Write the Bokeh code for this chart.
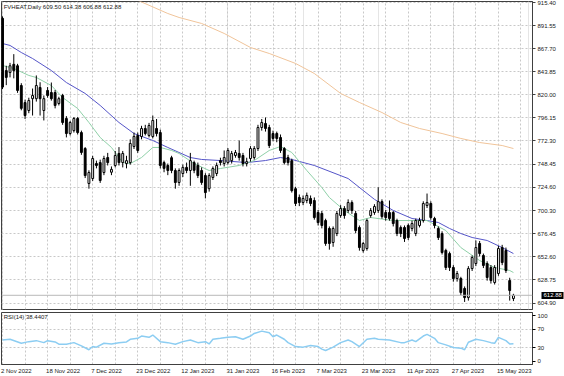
from bokeh.plotting import figure
from bokeh.layouts import column
from bokeh.models import (Range1d, FixedTicker, Grid, Span, Label, LinearAxis,
                          ColumnDataSource, PrintfTickFormatter)
from bokeh.embed import file_html
from bokeh.resources import INLINE

# ---------------- data ----------------
opens = [899, 845, 843, 851.5, 850, 829.6, 812, 803.8, 816, 816,
         827.6, 803.8, 824.5, 822.4, 822.4, 811, 819.3, 795.5, 780, 783,
         795.5, 781, 764.5, 728.4, 733.5, 749, 750, 739.7, 755.2, 740,
         747, 759.4, 750, 749, 750, 766.6, 778, 776.9, 785.2, 778,
         776.9, 785.2, 781, 750, 747, 755, 741.8, 729.4, 738.7, 745,
         741.8, 750, 747, 741.8, 736.6, 723, 734.6, 738.7, 752, 749,
         750, 752, 757.3, 759.4, 757.3, 749, 754.2, 755.2, 764.5, 786.2,
         790.4, 786.2, 780, 780, 775.9, 764.5, 755.2, 752, 723, 714,
         708.7, 710.8, 712.9, 710.8, 698.4, 697.4, 690.1, 681.9, 667.4, 676.7,
         695.3, 702.5, 700.5, 708.7, 697.4, 682.9, 659.2, 661.2, 695.3, 698.4,
         700.5, 709.7, 698.4, 698.4, 698.4, 690.1, 682.9, 682.9, 685, 681.9,
         676.7, 685, 690.1, 705.6, 707.7, 692.2, 681.9, 676.7, 659.2, 656,
         641.6, 630.2, 630.2, 619.9, 610.5, 640.5, 645.7, 666.4, 654, 645.7,
         641.6, 626.1, 635.4, 662.2, 659.2, 628.1, 609.50]
highs = [901, 850, 853, 862, 852, 832, 815, 817, 826.5, 840,
         833, 819.3, 828, 832.7, 825, 818, 821, 798, 793, 797,
         797, 783, 766, 742, 757, 752, 753, 757, 760, 746,
         762, 766, 762, 757, 774, 781, 781, 788, 789, 791,
         798.6, 795, 784, 752, 749, 757, 744, 744, 748, 750,
         760, 752, 750, 745, 739, 739, 746, 750, 755, 762.5,
         765, 762, 763, 772.8, 760, 755, 767, 767, 789, 795,
         796.6, 789, 783, 782, 779, 766, 758, 754, 725, 717,
         716, 719, 716, 714, 701, 700, 692, 684, 684, 700,
         706, 705, 712, 711, 700, 685, 668, 692, 703, 707,
         724.5, 712, 701, 710.8, 700, 692, 685, 685, 687, 690,
         692, 693, 710, 718, 710, 694, 684, 679, 661, 658,
         644, 638, 632, 622, 643, 654, 669.5, 669, 656, 648,
         644, 644, 664, 665, 662.2, 631, 614.38]
lows = [826, 830, 838, 837, 822, 804, 795, 801, 798.6, 813,
        798.6, 793.5, 817, 814, 806, 809, 789, 776, 778, 781,
        779, 758, 734, 723, 731, 744, 729, 737, 747, 737,
        745, 747, 745, 744, 748, 764, 760, 774, 778, 776,
        775, 777, 744, 740, 737, 739, 723, 726, 735, 739,
        726, 739, 734, 727, 713, 720, 732, 736, 747, 746,
        748, 749, 755, 752, 746, 746, 751, 753, 762, 783,
        782, 765, 772, 771, 760, 748, 747, 719, 705, 705,
        706, 708, 705, 691, 685, 682, 664, 660, 663, 674,
        693, 692, 698, 697, 677, 659, 657, 659, 693, 696,
        698, 692, 690, 690, 684, 674, 673, 668, 670, 679,
        674, 683, 688, 703, 691, 682, 670, 655, 639, 638,
        627, 627, 613, 606, 607.4, 638, 643, 653, 641, 628,
        625, 624, 633, 644, 636, 607.4, 606.88]
closes = [828, 838, 850, 845, 824.5, 806, 798.6, 814.1, 819.3, 829.6,
          816, 816, 819.3, 816, 809, 816, 791.4, 780, 791.4, 795.5,
          781, 760.4, 736.6, 739.7, 754.2, 747, 731.5, 754.2, 750, 743,
          757.3, 750, 759.4, 752, 769.7, 777, 762.5, 785.2, 780, 788.3,
          793.5, 780, 747, 744, 741.8, 741.8, 729.4, 741.8, 745, 741.8,
          752, 742, 736.6, 729.4, 719, 736.6, 743.9, 747, 750, 755.2,
          762.5, 759.4, 760.4, 755.2, 749, 751, 764.5, 764.5, 786.2, 791.4,
          785.2, 767.6, 774.9, 774.9, 762.5, 750, 750, 721, 707.7, 708.7,
          712.9, 716, 707.7, 693.2, 688, 685, 666.4, 666.4, 681.9, 697.4,
          702.5, 695.3, 708.7, 700.5, 679.8, 662.2, 666.4, 690.1, 700.5, 704.6,
          709.7, 694.2, 693.2, 692.2, 687, 676.7, 676.7, 671.5, 672.6, 687,
          690.1, 690.1, 707.7, 708.7, 693.2, 685, 672.6, 657.1, 641.6, 641.6,
          630.2, 635.4, 615.7, 610.5, 640.5, 651.9, 662.2, 656, 643.7, 631.3,
          628.1, 641.6, 661.2, 646.7, 638.5, 617.8, 612.88]

# moving averages (bar index, value)
ma_fast_idx = [0, 3, 7, 9, 13, 16, 20, 23, 26, 29, 32, 34, 37, 40, 42, 45, 47, 51,
               55, 58, 63, 67, 71, 74, 77, 81, 85, 87, 91, 95, 98, 104, 113, 118,
               122, 127, 131, 135, 136]
ma_fast_val = [850.3, 847.2, 840.0, 837.9, 829.6, 817.2, 805.9, 791.4, 775.9, 765.6,
               750.1, 749.0, 755.2, 765.6, 765.6, 762.5, 759.4, 749.0, 741.8, 743.9,
               747.0, 752.1, 762.5, 766.6, 760.4, 741.8, 724.2, 713.9, 700.5, 690.1,
               693.2, 690.1, 690.1, 679.8, 662.2, 648.8, 641.6, 638.5, 636.4]
ma_mid_idx = [0, 2, 5, 8, 13, 17, 22, 26, 31, 35, 40, 44, 50, 53, 58, 65, 70, 74,
              77, 83, 92, 99, 104, 109, 113, 116, 119, 122, 125, 129, 133, 136]
ma_mid_val = [873.0, 871.0, 863.7, 857.5, 845.1, 832.7, 821.4, 809.0, 791.4, 780.0,
              772.8, 765.6, 755.2, 753.2, 752.1, 750.0, 752.1, 755.2, 753.2, 747.0,
              733.5, 712.0, 700.5, 692.2, 690.1, 688.1, 681.9, 676.7, 672.6, 669.5,
              662.2, 656.0]
ma_slow_idx = [34, 44, 47, 53, 59, 66, 71, 78, 83, 90, 95, 101, 106, 111, 117, 122,
               127, 133, 136]
ma_slow_val = [921.0, 904.0, 899.9, 893.7, 883.4, 868.9, 862.7, 852.4, 842.0, 821.4,
               812.1, 801.7, 791.4, 785.2, 780.0, 774.9, 770.7, 767.6, 764.5]

rsi_idx = [0, 2, 5, 7, 9, 11, 12, 14, 15, 17, 19, 21, 23, 24, 25, 27, 29, 31, 33,
           34, 36, 37, 39, 40, 42, 44, 46, 48, 50, 52, 54, 55, 56, 58, 60, 62, 64,
           66, 67, 69, 71, 72, 73, 75, 76, 78, 80, 82, 84, 85, 86, 88, 90, 92, 93,
           95, 97, 99, 100, 103, 106, 107, 109, 110, 112, 113, 115, 116, 118, 120,
           122, 123, 124, 126, 128, 130, 131, 132, 134, 135, 136]
rsi_val = [46.9, 48.4, 39.7, 43.2, 45.4, 41.0, 45.4, 42.5, 37.6, 37.6, 41.0, 33.9,
           25.3, 32.4, 31.1, 39.7, 38.2, 41.0, 42.5, 48.4, 50.5, 55.5, 52.7, 57.7,
           43.2, 41.0, 37.6, 43.2, 46.9, 41.0, 43.2, 38.2, 48.4, 50.5, 52.7, 54.0,
           48.4, 55.5, 61.3, 66.3, 62.6, 54.0, 57.7, 48.4, 41.0, 32.4, 31.1, 34.6,
           32.4, 26.8, 23.8, 31.1, 41.0, 46.9, 43.2, 32.4, 48.4, 50.5, 48.4, 46.9,
           41.0, 41.0, 46.9, 43.2, 55.5, 59.2, 50.5, 41.0, 36.1, 30.2, 28.9, 25.3,
           41.9, 48.4, 45.4, 41.0, 39.7, 52.7, 45.4, 38.2, 38.44]

date_idx = [0, 12, 24, 36, 48, 60, 72, 84, 96, 108, 120, 132]
date_labels = ["2 Nov 2022", "18 Nov 2022", "7 Dec 2022", "23 Dec 2022",
               "12 Jan 2023", "31 Jan 2023", "16 Feb 2023", "7 Mar 2023",
               "23 Mar 2023", "11 Apr 2023", "27 Apr 2023", "15 May 2023"]
price_ticks = [604.90, 628.75, 652.60, 676.45, 700.30, 724.60, 748.45,
               772.30, 796.15, 820.00, 843.85, 867.70, 891.55, 915.40]
rsi_ticks = [0, 30, 70, 100]
rsi_levels = [30, 70]
last_price = 612.88
header = "FVHEAT,Daily  609.50 614.38 606.88 612.88"
rsi_header = "RSI(14) 38.4407"

# ---------------- build ----------------
idx = list(range(len(closes)))
tops = [max(o, c) for o, c in zip(opens, closes)]
bots = [min(o, c) for o, c in zip(opens, closes)]
fills = ["white" if c >= o else "black" for o, c in zip(opens, closes)]
src = ColumnDataSource(dict(x=idx, h=highs, l=lows, t=tops, b=bots, f=fills))

FONT = "Liberation Sans"
FS_PX = 6
FS = f"{FS_PX}px"
GRID = "#c8c8c8"
X0, X1 = -0.27, 141.07
XR = Range1d(X0, X1)
FRAME_W = 532
PX_PER_BAR = FRAME_W / (X1 - X0)

# approximate advance widths (Liberation Sans, per 1000 em) to left-align labels
ADV = {" ": 278, "N": 722, "o": 556, "v": 500, "D": 722, "e": 556, "c": 500,
       "J": 500, "a": 556, "n": 556, "F": 611, "b": 556, "M": 833, "r": 333,
       "A": 667, "p": 556, "y": 500}


def text_w(s):
    return sum(ADV.get(ch, 556) for ch in s) / 1000.0 * FS_PX


label_pos = [round(i + (text_w(s) / 2 - 1.5) / PX_PER_BAR, 4)
             for i, s in zip(date_idx, date_labels)]

p1 = figure(width=564, height=311, x_range=XR, y_range=Range1d(598.2, 916.4),
            x_axis_location=None, y_axis_location="right",
            toolbar_location=None, output_backend="svg",
            min_border_left=1, min_border_right=31, min_border_top=1,
            min_border_bottom=2)
p1.outline_line_color = "#404040"
yt = FixedTicker(ticks=price_ticks)
p1.yaxis.ticker = yt
p1.yaxis.formatter = PrintfTickFormatter(format="%.2f")
p1.yaxis.major_label_text_font = FONT
p1.yaxis.major_label_text_font_size = FS
p1.yaxis.major_label_text_color = "#202020"
p1.yaxis.major_tick_out = 3
p1.yaxis.major_tick_in = 0
p1.yaxis.minor_tick_line_color = None
p1.yaxis.major_label_standoff = 2
p1.yaxis.axis_line_color = "#404040"
p1.yaxis.major_tick_line_color = "#404040"
p1.ygrid.ticker = yt
p1.ygrid.grid_line_color = GRID
p1.ygrid.grid_line_dash = "2 2"
vgrid_ticks = list(range(0, 141, 6))
p1.add_layout(Grid(dimension=0, ticker=FixedTicker(ticks=vgrid_ticks),
                   grid_line_color=GRID, grid_line_dash="2 2"))

# current-price box on the price scale: a thick tick behind a white label
price_axis = LinearAxis(ticker=FixedTicker(ticks=[last_price]),
                        formatter=PrintfTickFormatter(format="%.2f"),
                        axis_line_color=None, minor_tick_line_color=None,
                        major_tick_line_color="black", major_tick_line_width=7,
                        major_tick_line_cap="butt",
                        major_tick_in=17, major_tick_out=5,
                        major_label_standoff=-20,
                        major_label_text_font=FONT, major_label_text_font_size=FS,
                        major_label_text_color="white")
p1.add_layout(price_axis, "right")

p1.add_layout(Span(location=last_price, dimension="width",
                   line_color="#b8b8b8", line_width=1))

p1.line(ma_slow_idx, ma_slow_val, line_color="#f0c49a", line_width=1)
p1.line(ma_mid_idx, ma_mid_val, line_color="#5555c8", line_width=1)
p1.line(ma_fast_idx, ma_fast_val, line_color="#8fd0a8", line_width=1)

p1.segment(x0="x", y0="l", x1="x", y1="h", source=src, line_color="black",
           line_width=1)
p1.vbar(x="x", top="t", bottom="b", width=0.5, fill_color="f",
        line_color="black", line_width=1, source=src)

p1.add_layout(Label(x=0.3, y=911.0, text=header, text_font=FONT,
                    text_font_size=FS, text_color="#202020",
                    text_baseline="middle", text_align="left"))

p2 = figure(width=564, height=65, x_range=XR, y_range=Range1d(-7.1, 107.3),
            x_axis_location="below", y_axis_location="right",
            toolbar_location=None, output_backend="svg",
            min_border_left=1, min_border_right=31, min_border_top=1,
            min_border_bottom=0)
p2.outline_line_color = "#404040"
p2.yaxis.ticker = FixedTicker(ticks=rsi_ticks)
p2.yaxis.major_label_text_font = FONT
p2.yaxis.major_label_text_font_size = FS
p2.yaxis.major_label_text_color = "#202020"
p2.yaxis.major_tick_out = 3
p2.yaxis.major_tick_in = 0
p2.yaxis.minor_tick_line_color = None
p2.yaxis.major_label_standoff = 2
p2.yaxis.axis_line_color = "#404040"
p2.ygrid.ticker = FixedTicker(ticks=rsi_levels)
p2.ygrid.grid_line_color = GRID
p2.ygrid.grid_line_dash = "2 2"
p2.xaxis.ticker = FixedTicker(ticks=label_pos)
p2.xaxis.major_label_overrides = {k: s for k, s in zip(label_pos, date_labels)}
p2.xaxis.major_label_text_font = FONT
p2.xaxis.major_label_text_font_size = FS
p2.xaxis.major_label_text_color = "#202020"
p2.xaxis.major_tick_line_color = None
p2.xaxis.major_tick_out = 2
p2.xaxis.major_tick_in = 0
p2.xaxis.minor_tick_line_color = None
p2.xaxis.major_label_standoff = 1
p2.xaxis.axis_line_color = "#404040"
p2.xgrid.ticker = FixedTicker(ticks=vgrid_ticks)
p2.xgrid.grid_line_color = GRID
p2.xgrid.grid_line_dash = "2 2"

p2.line(rsi_idx, rsi_val, line_color="#8ccdf2", line_width=1.5)
p2.add_layout(Label(x=0.3, y=98.5, text=rsi_header, text_font=FONT,
                    text_font_size=FS, text_color="#202020",
                    text_baseline="middle", text_align="left"))

layout = column(p1, p2, spacing=0)
open("out.html", "w").write(file_html(layout, INLINE))
